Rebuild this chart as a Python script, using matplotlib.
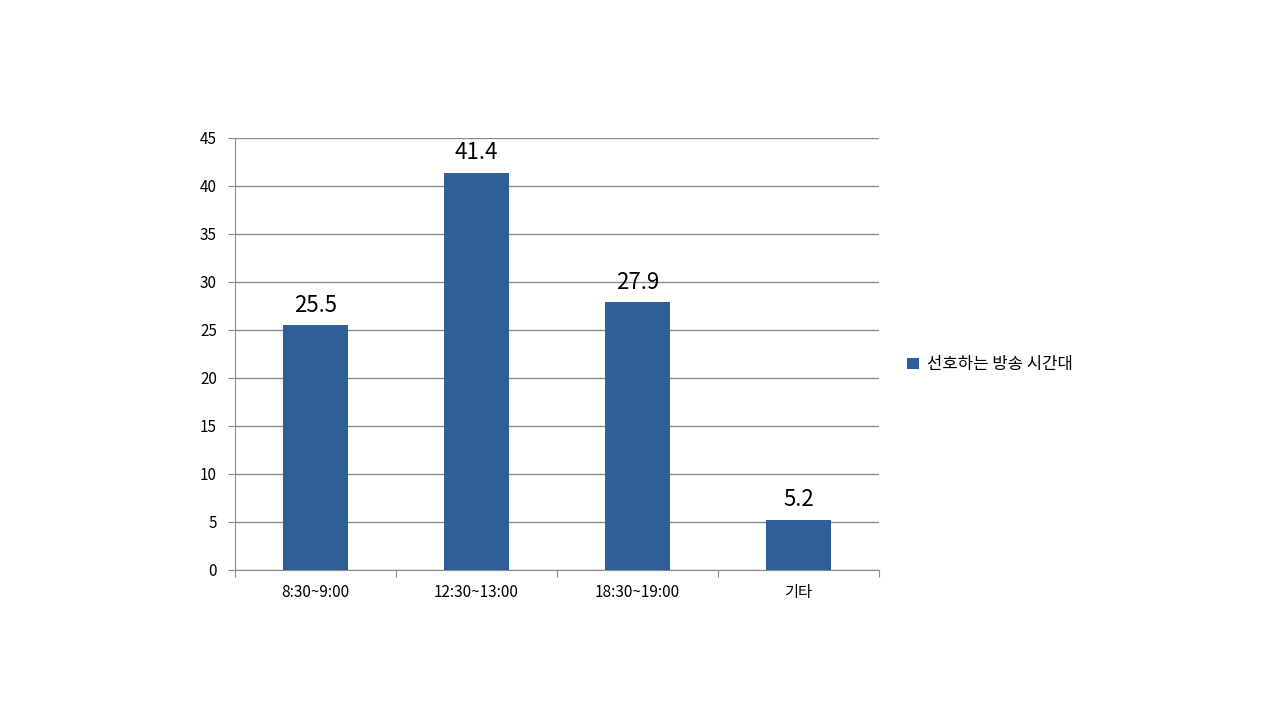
import matplotlib.pyplot as plt
import numpy as np

plt.rcParams['font.family'] = ['Noto Sans CJK KR', 'DejaVu Sans']

# 데이터
categories = ['8:30~9:00', '12:30~13:00', '18:30~19:00', '기타']
values = [25.5, 41.4, 27.9, 5.2]
series_name = '선호하는 방송 시간대'
yticks = [0, 5, 10, 15, 20, 25, 30, 35, 40, 45]

bar_color = '#2F5F97'
grid_color = '#8C8C8C'

fig = plt.figure(figsize=(12.8, 7.2), dpi=100)
ax = fig.add_axes([235 / 1280, 1 - 570 / 720, 644 / 1280, 432 / 720])

x = np.arange(len(categories))
bars = ax.bar(x, values, width=0.4, color=bar_color, label=series_name, zorder=3)

# 값 라벨
for xi, v in zip(x, values):
    ax.text(xi, v + 0.9, f'{v}', ha='center', va='bottom', fontsize=16)

ax.set_xlim(-0.5, len(categories) - 0.5)
ax.set_ylim(0, 45)
ax.set_yticks(yticks)
ax.tick_params(axis='y', labelsize=11, length=5, color=grid_color, pad=8)
ax.yaxis.grid(True, color=grid_color, linewidth=1, zorder=0)

# x축: 카테고리 경계에 눈금
ax.set_xticks(np.arange(-0.5, len(categories), 1.0))
ax.set_xticklabels([])
ax.set_xticks(x, minor=True)
ax.set_xticklabels(categories, minor=True)
ax.tick_params(axis='x', which='major', length=5, color=grid_color)
ax.tick_params(axis='x', which='minor', length=0, labelsize=11, pad=10)

for side in ['top', 'right']:
    ax.spines[side].set_visible(False)
ax.spines['left'].set_color(grid_color)
ax.spines['bottom'].set_color(grid_color)

ax.legend(loc='center left', bbox_to_anchor=(1.02, 0.475), frameon=False,
          fontsize=12, handlelength=0.7, handleheight=0.7, handletextpad=0.5)

fig.savefig('out.png', dpi=100)
